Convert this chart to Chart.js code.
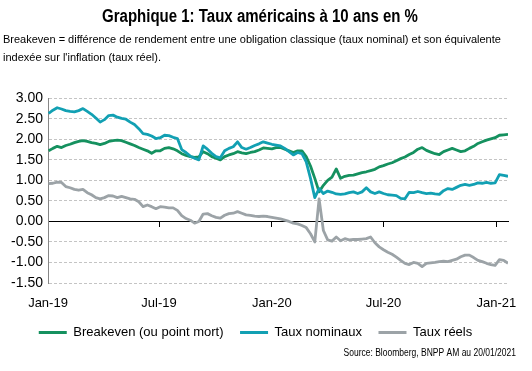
<!DOCTYPE html>
<html>
<head>
<meta charset="utf-8">
<script src="https://cdn.jsdelivr.net/npm/chart.js@4"></script>
<style>
  html, body { margin: 0; background: #fff; }
  #wrap { position: relative; width: 532px; height: 371px; }
</style>
</head>
<body>
<div id="wrap"><canvas id="ratesChart"></canvas></div>
<script>
// axis: days counted from 1 Jan 2019, one point per week starting 2 Jan 2019
const tickDays = [0, 181, 365, 547, 731];
const tickLabels = ['Jan-19', 'Jul-19', 'Jan-20', 'Jul-20', 'Jan-21'];
const firstDay = 1;

const breakeven = [
  1.72, 1.78, 1.83, 1.80, 1.85, 1.88, 1.92, 1.95, 1.97, 1.95,
  1.92, 1.90, 1.87, 1.90, 1.95, 1.97, 1.98, 1.97, 1.93, 1.89,
  1.85, 1.80, 1.76, 1.72, 1.66, 1.72, 1.72, 1.78, 1.80, 1.77,
  1.72, 1.65, 1.61, 1.58, 1.56, 1.57, 1.70, 1.65, 1.58, 1.54,
  1.50, 1.58, 1.62, 1.65, 1.70, 1.67, 1.65, 1.68, 1.70, 1.74,
  1.79, 1.78, 1.77, 1.80, 1.80, 1.76, 1.72, 1.68, 1.72, 1.72,
  1.58, 1.35, 1.05, 0.72, 0.88, 1.00, 1.08, 1.28, 1.05, 1.10,
  1.12, 1.13, 1.16, 1.19, 1.21, 1.24, 1.27, 1.33, 1.36, 1.40,
  1.43, 1.48, 1.53, 1.57, 1.63, 1.68, 1.76, 1.80, 1.73, 1.69,
  1.65, 1.63, 1.70, 1.74, 1.78, 1.74, 1.70, 1.72, 1.78, 1.83,
  1.90, 1.94, 1.98, 2.01, 2.04, 2.10, 2.11, 2.12
];
const nominal = [
  2.63, 2.71, 2.77, 2.74, 2.70, 2.68, 2.67, 2.70, 2.75, 2.68,
  2.61, 2.52, 2.42, 2.48, 2.58, 2.59, 2.54, 2.51, 2.49, 2.42,
  2.36, 2.26, 2.14, 2.12, 2.08, 2.02, 2.04, 2.10, 2.09, 2.05,
  2.02, 1.75, 1.68, 1.59, 1.54, 1.50, 1.84, 1.76, 1.66, 1.58,
  1.55, 1.72, 1.78, 1.82, 1.94, 1.80, 1.76, 1.80, 1.85, 1.89,
  1.94, 1.91, 1.88, 1.86, 1.84, 1.78, 1.70, 1.62, 1.68, 1.65,
  1.45, 1.05, 0.58, 0.80, 0.68, 0.74, 0.71, 0.67, 0.66, 0.67,
  0.70, 0.72, 0.68, 0.72, 0.82, 0.72, 0.68, 0.72, 0.68, 0.65,
  0.64, 0.63, 0.56, 0.55, 0.71, 0.70, 0.73, 0.70, 0.68, 0.69,
  0.67, 0.66, 0.75, 0.80, 0.78, 0.83, 0.88, 0.90, 0.88, 0.90,
  0.94, 0.93, 0.95, 0.93, 0.94, 1.14, 1.12, 1.10
];
const real = [
  0.92, 0.93, 0.96, 0.95, 0.85, 0.82, 0.78, 0.76, 0.78, 0.70,
  0.65, 0.58, 0.55, 0.58, 0.63, 0.62, 0.58, 0.61, 0.58, 0.55,
  0.54, 0.48, 0.36, 0.40, 0.36, 0.31, 0.36, 0.35, 0.33, 0.33,
  0.27, 0.14, 0.07, 0.03, -0.04, 0.00, 0.18, 0.19, 0.14, 0.10,
  0.08, 0.15, 0.19, 0.20, 0.24, 0.20, 0.16, 0.15, 0.13, 0.12,
  0.13, 0.12, 0.10, 0.08, 0.06, 0.03, 0.00, -0.04, -0.06, -0.10,
  -0.15, -0.30, -0.50, 0.55, -0.22, -0.45, -0.48, -0.38, -0.47, -0.42,
  -0.45, -0.44, -0.44, -0.43, -0.42, -0.38, -0.52, -0.62, -0.69, -0.75,
  -0.80, -0.87, -0.95, -1.02, -1.05, -1.00, -1.02, -1.10, -1.02, -1.01,
  -1.00, -0.98, -0.97, -0.98, -0.95, -0.92, -0.86, -0.82, -0.82, -0.88,
  -0.95, -0.98, -1.02, -1.05, -1.07, -0.93, -0.95, -1.02
];

const seriesNames = ['Breakeven (ou point mort)', 'Taux nominaux', 'Taux réels'];
const titleText = 'Graphique 1: Taux américains à 10 ans en %';
const noteLines = [
  'Breakeven = différence de rendement entre une obligation classique (taux nominal) et son équivalente',
  "indexée sur l'inflation (taux réel)."
];
const sourceText = 'Source: Bloomberg, BNPP AM au 20/01/2021';

const SANS = "'Liberation Sans', Arial, sans-serif";

const toPoints = arr => arr.map((v, i) => ({ x: firstDay + 7 * i, y: v }));
const setTicks = scale => { scale.ticks = tickDays.map(v => ({ value: v })); };

// no narrow font installed: squeeze the bold title and the source line
function narrowText(ctx, text, font, x, y, align, squeeze) {
  ctx.save();
  ctx.font = font;
  ctx.fillStyle = '#000';
  ctx.textAlign = align;
  ctx.textBaseline = 'middle';
  ctx.translate(x, y);
  ctx.scale(squeeze, 1);
  ctx.fillText(text, 0, 0);
  ctx.restore();
}

const headerFooter = {
  id: 'headerFooter',
  afterDraw(chart) {
    const ctx = chart.ctx;
    narrowText(ctx, titleText, 'bold 18px ' + SANS, 260, 17, 'center', 0.834);
    narrowText(ctx, sourceText, '10px ' + SANS, 516, 353, 'right', 0.85);
  }
};

const ctx = document.getElementById('ratesChart').getContext('2d');
new Chart(ctx, {
  type: 'line',
  data: {
    datasets: [
      { label: seriesNames[0], data: toPoints(breakeven), borderColor: '#15915f', backgroundColor: '#15915f', order: 1 },
      { label: seriesNames[1], data: toPoints(nominal), borderColor: '#12a0b3', backgroundColor: '#12a0b3', order: 0 },
      { label: seriesNames[2], data: toPoints(real), borderColor: '#9ca3a7', backgroundColor: '#9ca3a7', order: 2 }
    ]
  },
  options: {
    responsive: true,
    maintainAspectRatio: false,
    animation: false,
    elements: {
      line: { borderWidth: 2.8, tension: 0, borderJoinStyle: 'round' },
      point: { radius: 0 }
    },
    layout: { padding: { left: 3, right: 24, bottom: 25.5, top: 31.6 } },
    plugins: {
      title: { display: false },
      subtitle: {
        display: true,
        text: noteLines,
        align: 'start',
        color: '#000',
        font: { family: SANS, size: 11, lineHeight: 1.6 },
        padding: { top: 0, bottom: 31.5 }
      },
      legend: {
        position: 'bottom',
        maxHeight: 36,
        labels: {
          boxWidth: 28,
          boxHeight: 3,
          padding: 16.5,
          color: '#000',
          font: { family: SANS, size: 13 },
          sort: (a, b) => a.datasetIndex - b.datasetIndex,
          generateLabels(chart) {
            const items = Chart.defaults.plugins.legend.labels.generateLabels(chart);
            items.forEach(it => { it.lineWidth = 0; it.fillStyle = it.strokeStyle; });
            return items;
          }
        }
      },
      tooltip: { enabled: false }
    },
    scales: {
      x: {
        type: 'linear',
        min: 0,
        max: 750,
        afterBuildTicks: setTicks,
        afterFit: s => { s.height = 26.5; },
        grid: { display: false, drawTicks: false },
        border: { display: false },
        ticks: {
          autoSkip: false,
          maxRotation: 0,
          padding: 13.5,
          color: '#000',
          font: { family: SANS, size: 13, lineHeight: 1 },
          callback: v => tickLabels[tickDays.indexOf(v)]
        }
      },
      xZero: {
        type: 'linear',
        axis: 'x',
        min: 0,
        max: 750,
        position: { y: 0 },
        afterBuildTicks: setTicks,
        grid: { drawOnChartArea: false, drawTicks: true, tickLength: 5, color: '#000' },
        border: { color: '#000', width: 1 },
        ticks: { display: false }
      },
      y: {
        min: -1.5,
        max: 3,
        afterFit: s => { s.width = 45; },
        grid: { color: '#c4c4c4', drawTicks: false },
        border: { color: '#868686', dash: [3, 2] },
        ticks: {
          stepSize: 0.5,
          autoSkip: false,
          padding: 5,
          color: '#000',
          font: { family: SANS, size: 14 },
          callback: v => v.toFixed(2)
        }
      }
    }
  },
  plugins: [headerFooter]
});
</script>
</body>
</html>
